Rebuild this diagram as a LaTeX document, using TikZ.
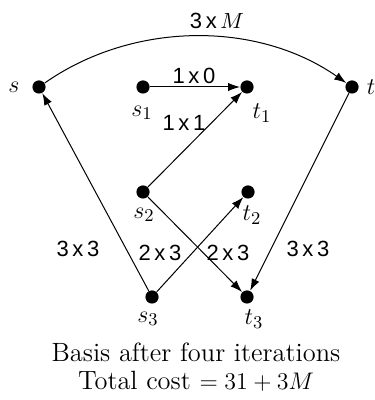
\documentclass[tikz,border=0pt]{standalone}
\usepackage{fontspec}
\newfontfamily\labfont{Liberation Sans}
\usetikzlibrary{arrows.meta}
\begin{document}
\begin{tikzpicture}[x=0.5pt,y=0.5pt,
  dot/.style={circle,fill=black,inner sep=0pt,minimum size=6.6pt},
  arr/.style={line width=0.5pt,-{Latex[length=6pt,width=4.2pt]}},
  lab/.style={inner sep=0pt,font=\labfont\fontsize{11}{12}\selectfont},
  vlab/.style={inner sep=0pt,font=\fontsize{13}{15}\selectfont},
  captext/.style={inner sep=0pt,align=center,font=\fontsize{13.2}{14}\selectfont}]
\useasboundingbox (0,0) rectangle (374,400);
% vertices
\node[dot] (s)  at (39,313) {};
\node[dot] (s1) at (143,313) {};
\node[dot] (t1) at (247,313) {};
\node[dot] (t)  at (352,313) {};
\node[dot] (s2) at (143,208) {};
\node[dot] (t2) at (248,208) {};
\node[dot] (s3) at (152,103) {};
\node[dot] (t3) at (247,103) {};
% vertex labels
\node[vlab] (ls)  at (14,313) {$s$};
\node[vlab] (lt)  at (371,313) {$t$};
\node[vlab] (ls1) at (142,287) {$s_1$};
\node[vlab] (lt1) at (262,287) {$t_1$};
\node[vlab] (ls2) at (144,185) {$s_2$};
\node[vlab] (lt2) at (252,185) {$t_2$};
\node[vlab] (ls3) at (148,81) {$s_3$};
\node[vlab] (lt3) at (254,81) {$t_3$};
% edges
\draw[arr] (s) to[out=35,in=145,looseness=0.92] (t);
\draw[arr] (s1) -- (t1);
\draw[arr] (s2) -- (t1);
\draw[arr] (s2) -- (t3);
\draw[arr] (s3) -- (t2);
\draw[arr] (s3) -- (s);
\draw[arr] (t) -- (t3);
% edge labels
\node[lab] (e1) at (217,379) {3\,x\,$M$};
\node[lab] (e2) at (194,324) {1\,x\,0};
\node[lab] (e3) at (184,277) {1\,x\,1};
\node[lab] (e4) at (78,151) {3\,x\,3};
\node[lab] (e5) at (160,147) {2\,x\,3};
\node[lab] (e6) at (228,147) {2\,x\,3};
\node[lab] (e7) at (308,151) {3\,x\,3};
% caption
\node[captext] (caption) at (196,33) {Basis after four iterations\\Total cost $=31+3M$};
\end{tikzpicture}
\end{document}
